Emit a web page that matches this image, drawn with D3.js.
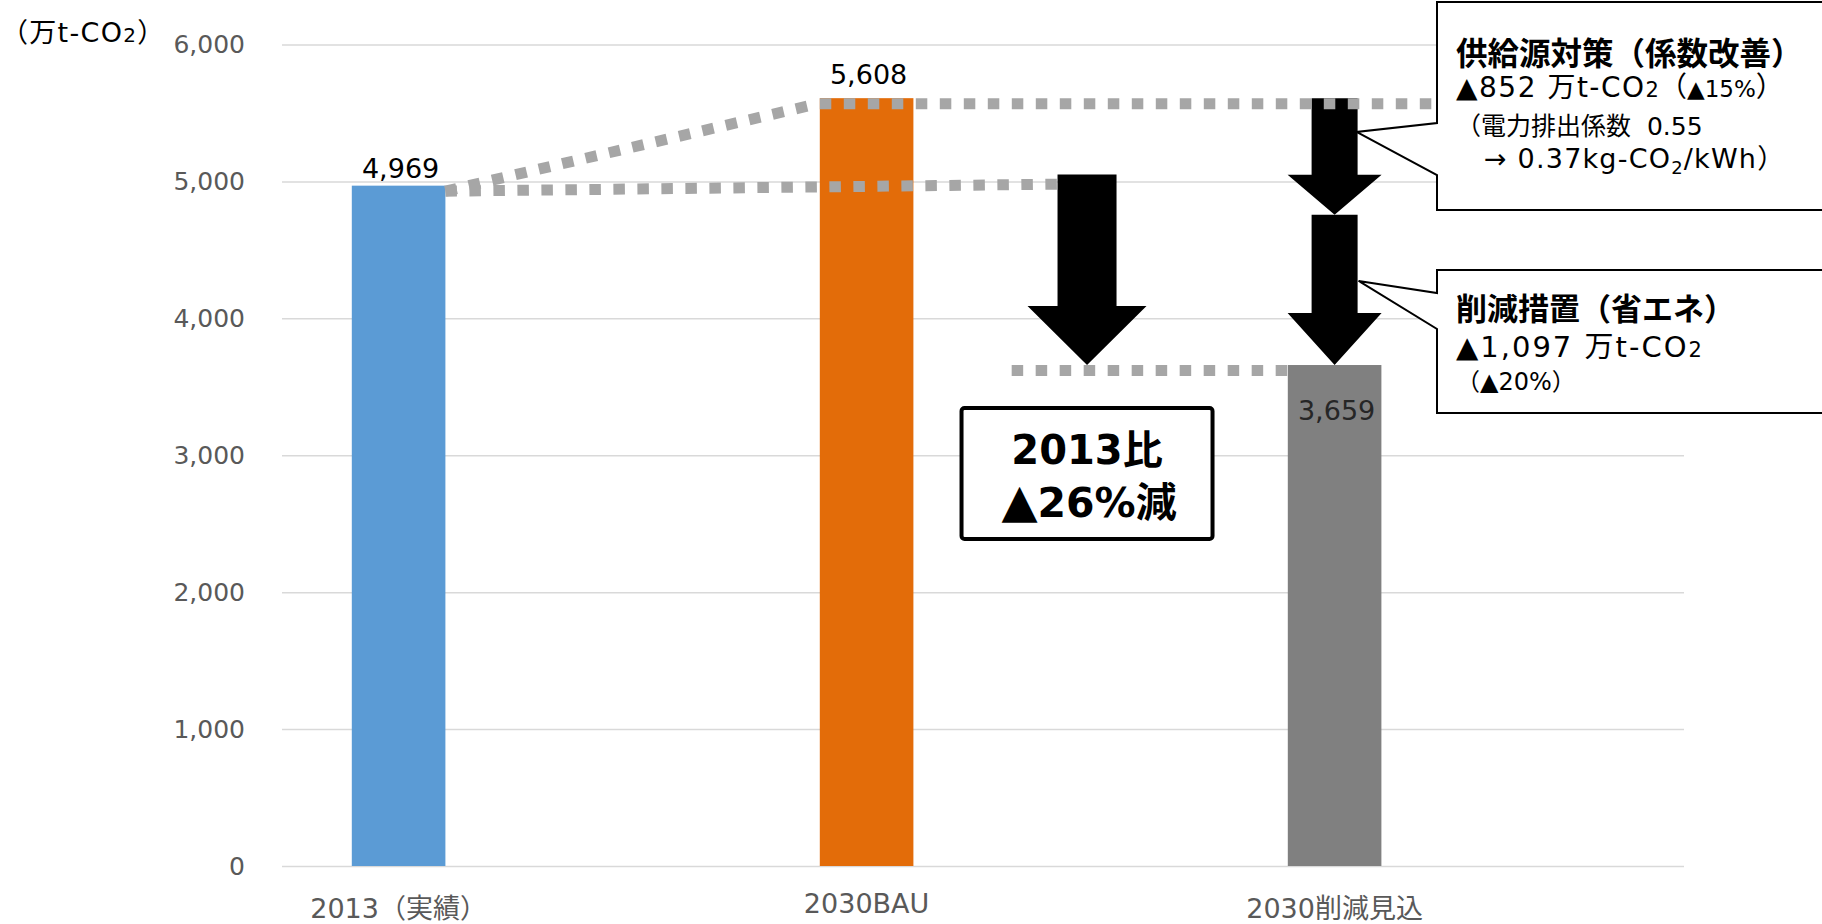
<!DOCTYPE html>
<html>
<head>
<meta charset="utf-8">
<script src="https://cdn.jsdelivr.net/npm/d3@7"></script>
<style>
  body { margin: 0; background: #fff; }
  text { font-family: "DejaVu Sans", "Noto Sans CJK JP", sans-serif; }
</style>
</head>
<body>
<script>
// data (万t-CO2)
var categories = ["2013（実績）", "2030BAU", "2030削減見込"];
var emissions = [4969, 5608, 3659];
var barColors = ["#5B9BD5", "#E36C09", "#808080"];
var yTicks = [0, 1000, 2000, 3000, 4000, 5000, 6000];

// breakdown of the 2030 reduction
var supplyCut = 852;    // 供給源対策（係数改善）
var savingCut = 1097;   // 削減措置（省エネ）
var bigArrowTop = 5050; // the "2013比" arrow starts a bit above the 2013 level

var W = 1822, H = 924;
var gridLeft = 282, gridRight = 1684;

var svg = d3.select("body").append("svg")
  .attr("width", W)
  .attr("height", H)
  .style("background", "#fff");

var y = d3.scaleLinear().domain([0, 6000]).range([866, 44.5]);

var x = d3.scaleBand()
  .domain(categories)
  .range([164.6, 1568.6])
  .paddingInner(0.8)
  .paddingOuter(0.4);

// category index -> bar centre, used for the annotations placed between bars
var xi = d3.scaleLinear()
  .domain([0, categories.length - 1])
  .range([x(categories[0]) + x.bandwidth() / 2, x(categories[2]) + x.bandwidth() / 2]);

// y axis with gridlines

var yAxis = svg.append("g")
  .attr("transform", "translate(" + gridLeft + ",0)")
  .call(d3.axisLeft(y)
    .tickValues(yTicks)
    .tickFormat(d3.format(","))
    .tickSize(-(gridRight - gridLeft))
    .tickPadding(37));
yAxis.select(".domain").remove();
yAxis.selectAll("line").attr("stroke", "#D9D9D9").attr("stroke-width", 1.5);
yAxis.selectAll("text").attr("fill", "#595959").style("font-size", "25px");

// unit label
var unit = svg.append("text").attr("x", 1).attr("y", 42)
  .style("font-size", "27px").style("letter-spacing", "1.3px").attr("fill", "#000");
unit.append("tspan").text("（万t-CO");
unit.append("tspan").style("font-size", "20px").text("2");
unit.append("tspan").text("）");

// x axis labels

var xAxis = svg.append("g")
  .attr("transform", "translate(0," + y(0) + ")")
  .call(d3.axisBottom(x).tickSize(0).tickPadding(33));
xAxis.select(".domain").remove();
xAxis.selectAll("text")
  .attr("fill", "#595959")
  .style("font-size", "27px")
  .attr("dy", function(d) { return d === "2030BAU" ? "0.52em" : "0.71em"; });

// bars

svg.append("g")
  .selectAll("rect")
  .data(emissions)
  .enter()
  .append("rect")
  .attr("x", function(d, i) { return x(categories[i]); })
  .attr("y", function(d) { return y(d); })
  .attr("width", x.bandwidth())
  .attr("height", function(d) { return y(0) - y(d); })
  .attr("fill", function(d, i) { return barColors[i]; });

// arrows

function arrowPath(cx, y0, y1, shaftW, headW, headL) {
  var s = shaftW / 2, h = headW / 2, yh = y1 - headL;
  return "M" + (cx - s) + "," + y0 +
    "L" + (cx + s) + "," + y0 +
    "L" + (cx + s) + "," + yh +
    "L" + (cx + h) + "," + yh +
    "L" + cx + "," + y1 +
    "L" + (cx - h) + "," + yh +
    "L" + (cx - s) + "," + yh + "Z";
}

var afterSupply = emissions[1] - supplyCut;
var arrows = [
  { at: 1.471, from: bigArrowTop, to: emissions[2], shaft: 59, head: 119, headL: 59 },
  { at: 2, from: emissions[1], to: afterSupply, shaft: 46, head: 94, headL: 40 },
  { at: 2, from: afterSupply, to: afterSupply - savingCut, shaft: 46, head: 94, headL: 52 }
];

svg.append("g")
  .selectAll("path")
  .data(arrows)
  .enter()
  .append("path")
  .attr("d", function(d) { return arrowPath(xi(d.at), y(d.from), y(d.to), d.shaft, d.head, d.headL); })
  .attr("fill", "#000");

// dotted guide lines

var guides = [
  [0.1, emissions[0], 0.896, emissions[1]],
  [0.1, emissions[0], 1.408, 5020],
  [0.9, emissions[1], 2.218, emissions[1]],
  [1.31, emissions[2], 1.925, emissions[2]]
];

svg.append("g")
  .selectAll("line")
  .data(guides)
  .enter()
  .append("line")
  .attr("x1", function(d) { return xi(d[0]); })
  .attr("y1", function(d) { return y(d[1]) + 5.5; })
  .attr("x2", function(d) { return xi(d[2]); })
  .attr("y2", function(d) { return y(d[3]) + 5.5; })
  .attr("stroke", "#A6A6A6")
  .attr("stroke-width", 11)
  .attr("stroke-dasharray", "11.5 12.5");

// value labels

var labelNudge = [-8, -14, 55];

svg.append("g")
  .selectAll("text")
  .data(emissions)
  .enter()
  .append("text")
  .attr("x", function(d, i) { return x(categories[i]) + x.bandwidth() / 2 + 2; })
  .attr("y", function(d, i) { return y(d) + labelNudge[i]; })
  .attr("text-anchor", "middle")
  .style("font-size", "27px")
  .attr("fill", function(d, i) { return i == 2 ? "#262626" : "#000"; })
  .text(d3.format(","));

// "2013比 ▲26%減" box

var bx = xi(1.471), by = y(2867);
svg.append("rect")
  .attr("x", bx - 125.5)
  .attr("y", by - 65.5)
  .attr("width", 251)
  .attr("height", 131)
  .attr("rx", 3)
  .attr("fill", "#fff")
  .attr("stroke", "#000")
  .attr("stroke-width", 4);

svg.append("text")
  .attr("x", bx)
  .attr("y", by - 9.5)
  .attr("text-anchor", "middle")
  .style("font-size", "40px")
  .style("font-weight", "bold")
  .text("2013比");

var pct = svg.append("text")
  .attr("x", bx + 2)
  .attr("y", by + 43.5)
  .attr("text-anchor", "middle")
  .style("font-size", "41px")
  .style("font-weight", "bold");
pct.append("tspan").style("font-size", "47px").text("▲");
pct.append("tspan").text(Math.round((1 - emissions[2] / emissions[0]) * 100) + "%減");

// callouts

function calloutPath(left, top, bottom, joinTop, joinBottom, tipX, tipY) {
  return "M" + left + "," + top +
    "L" + (W + 20) + "," + top +
    "L" + (W + 20) + "," + bottom +
    "L" + left + "," + bottom +
    "L" + left + "," + joinBottom +
    "L" + tipX + "," + tipY +
    "L" + left + "," + joinTop + "Z";
}

var c1 = svg.append("g");
c1.append("path")
  .attr("d", calloutPath(1437, 2, 210, 123, 175, xi(2) + 22, y(5361)))
  .attr("fill", "#fff")
  .attr("stroke", "#000")
  .attr("stroke-width", 2);

c1.append("text").attr("x", 1456).attr("y", 65)
  .style("font-size", "31.5px").style("font-weight", "bold")
  .text("供給源対策（係数改善）");

var t = c1.append("text").attr("x", 1456).attr("y", 97).style("font-size", "28px");
t.append("tspan").style("letter-spacing", "1.5px").text("▲" + d3.format(",")(supplyCut) + " 万t-CO");
t.append("tspan").style("font-size", "21px").text("2");
t.append("tspan").text("（");
t.append("tspan").style("font-size", "23px").text("▲" + Math.round(supplyCut / emissions[1] * 100) + "%");
t.append("tspan").text("）");

c1.append("text").attr("x", 1456).attr("y", 135).style("font-size", "25px")
  .text("（電力排出係数\u00a0\u00a00.55");

t = c1.append("text").attr("x", 1484).attr("y", 168)
  .style("font-size", "27px").style("letter-spacing", "1.2px");
t.append("tspan").text("→ 0.37kg-CO");
t.append("tspan").style("font-size", "18px").attr("dy", 6).text("2");
t.append("tspan").attr("dy", -6).text("/kWh）");

var c2 = svg.append("g");
c2.append("path")
  .attr("d", calloutPath(1437, 270, 413, 293, 329, xi(2) + 24, y(4273)))
  .attr("fill", "#fff")
  .attr("stroke", "#000")
  .attr("stroke-width", 2);

c2.append("text").attr("x", 1456).attr("y", 320)
  .style("font-size", "31px").style("font-weight", "bold")
  .text("削減措置（省エネ）");

t = c2.append("text").attr("x", 1456).attr("y", 357).style("font-size", "29px").style("letter-spacing", "2px");
t.append("tspan").text("▲" + d3.format(",")(savingCut) + " 万t-CO");
t.append("tspan").style("font-size", "21px").text("2");

c2.append("text").attr("x", 1456).attr("y", 390).style("font-size", "24px")
  .text("（▲" + Math.round(savingCut / emissions[1] * 100) + "%）");
</script>
</body>
</html>
